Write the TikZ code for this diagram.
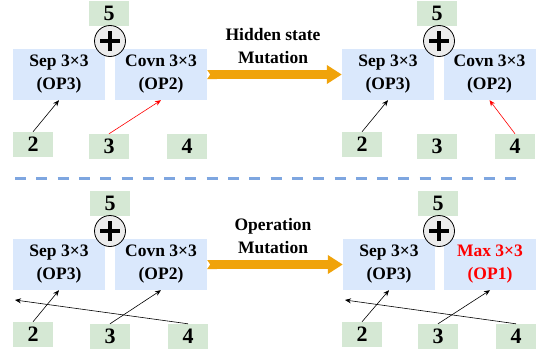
\documentclass[tikz,border=0pt]{standalone}
\usepackage{fontspec}
\setmainfont{Liberation Serif}
\usetikzlibrary{arrows.meta}
\definecolor{opblue}{HTML}{DAE8FC}
\definecolor{stgreen}{HTML}{D5E8D4}
\definecolor{mutorange}{HTML}{F0A30A}
\definecolor{splitblue}{HTML}{7EA6E0}
\def\opfont{\fontsize{17.5}{23}\selectfont\bfseries}
\def\stfont{\fontsize{22}{22}\selectfont\bfseries}
\tikzstyle{op}=[fill=opblue,minimum width=92pt,minimum height=51pt,
                inner sep=0pt,align=center,font=\opfont]
\tikzstyle{state}=[fill=stgreen,minimum width=40pt,minimum height=25pt,
                   inner sep=0pt,font=\stfont]
\tikzstyle{add}=[draw,circle,thick,fill=gray!15,minimum size=31pt,inner sep=0pt]
\tikzstyle{plus}=[line width=4pt]
\tikzstyle{link}=[-{Stealth[length=6pt,width=5pt]},semithick]
\tikzstyle{mutate}=[draw=mutorange,line width=9pt,
                    {Triangle Cap[reversed,length=3pt]}-{Triangle[length=15pt,width=18pt]}]
\tikzstyle{mlabel}=[align=center,font=\opfont]
\tikzstyle{split}=[splitblue,line width=3pt,dash pattern=on 11pt off 10.3pt]

\begin{document}
\begin{tikzpicture}[x=1pt,y=-1pt]
  \useasboundingbox (0,0) rectangle (537,356);

  % Hidden state mutation, before
  \node[state] (a5) at (109,13) {5};
  \node[op] (asep) at (59,74.5) {Sep 3×3\\(OP3)};
  \node[op] (acovn) at (161,74.5) {Covn 3×3\\(OP2)};
  \node[add] (aadd) at (110,41) {};
  \draw[plus] ([xshift=-10pt]aadd.center) -- ([xshift=10pt]aadd.center);
  \draw[plus] ([yshift=-10pt]aadd.center) -- ([yshift=10pt]aadd.center);
  \node[state] (a2) at (33,144.5) {2};
  \node[state] (a3) at (109,146.5) {3};
  \node[state] (a4) at (187,146.5) {4};

  \path[link] (a2.north) edge (asep.south);
  \path[link,red] (a3.north) edge (acovn.south);

  % Hidden state mutation, after
  \node[state] (b5) at (437,13) {5};
  \node[op] (bsep) at (388,74.5) {Sep 3×3\\(OP3)};
  \node[op] (bcovn) at (489.5,74.5) {Covn 3×3\\(OP2)};
  \node[add] (badd) at (439,41) {};
  \draw[plus] ([xshift=-10pt]badd.center) -- ([xshift=10pt]badd.center);
  \draw[plus] ([yshift=-10pt]badd.center) -- ([yshift=10pt]badd.center);
  \node[state] (b2) at (362,144.5) {2};
  \node[state] (b3) at (437,146.5) {3};
  \node[state] (b4) at (515,146.5) {4};

  \path[link] (b2.north) edge (bsep.south);
  \path[link,red] (b4.north) edge (bcovn.south);

  \node[mlabel] (hmut) at (273,46) {Hidden state\\Mutation};
  \draw[mutate] (acovn.east) -- (bsep.west);

  % Separator
  \draw[split] (15,178) -- (517,178);

  % Operation mutation, before
  \node[state] (c5) at (110,203) {5};
  \node[op] (csep) at (59,264.5) {Sep 3×3\\(OP3)};
  \node[op] (ccovn) at (161,264.5) {Covn 3×3\\(OP2)};
  \node[add] (cadd) at (110,231) {};
  \draw[plus] ([xshift=-10pt]cadd.center) -- ([xshift=10pt]cadd.center);
  \draw[plus] ([yshift=-10pt]cadd.center) -- ([yshift=10pt]cadd.center);
  \node[state] (c2) at (33,334.5) {2};
  \node[state] (c3) at (110,336.5) {3};
  \node[state] (c4) at (188,336.5) {4};
  \coordinate (cend) at (15,300);

  \path[link] (c2.north) edge (csep.south);
  \path[link] (c3.north) edge (ccovn.south);
  \path[link] (c4.north) edge (cend);

  % Operation mutation, after
  \node[state] (d5) at (438,203) {5};
  \node[op] (dsep) at (389,264.5) {Sep 3×3\\(OP3)};
  \node[op,text=red] (dmax) at (490,264.5) {Max 3×3\\(OP1)};
  \node[add] (dadd) at (439,231) {};
  \draw[plus] ([xshift=-10pt]dadd.center) -- ([xshift=10pt]dadd.center);
  \draw[plus] ([yshift=-10pt]dadd.center) -- ([yshift=10pt]dadd.center);
  \node[state] (d2) at (362,334.5) {2};
  \node[state] (d3) at (438,336.5) {3};
  \node[state] (d4) at (516,336.5) {4};
  \coordinate (dend) at (345,300);

  \path[link] (d2.north) edge (dsep.south);
  \path[link] (d3.north) edge (dmax.south);
  \path[link] (d4.north) edge (dend);

  \node[mlabel] (omut) at (273,236) {Operation\\Mutation};
  \draw[mutate] (ccovn.east) -- (dsep.west);

\end{tikzpicture}
\end{document}
